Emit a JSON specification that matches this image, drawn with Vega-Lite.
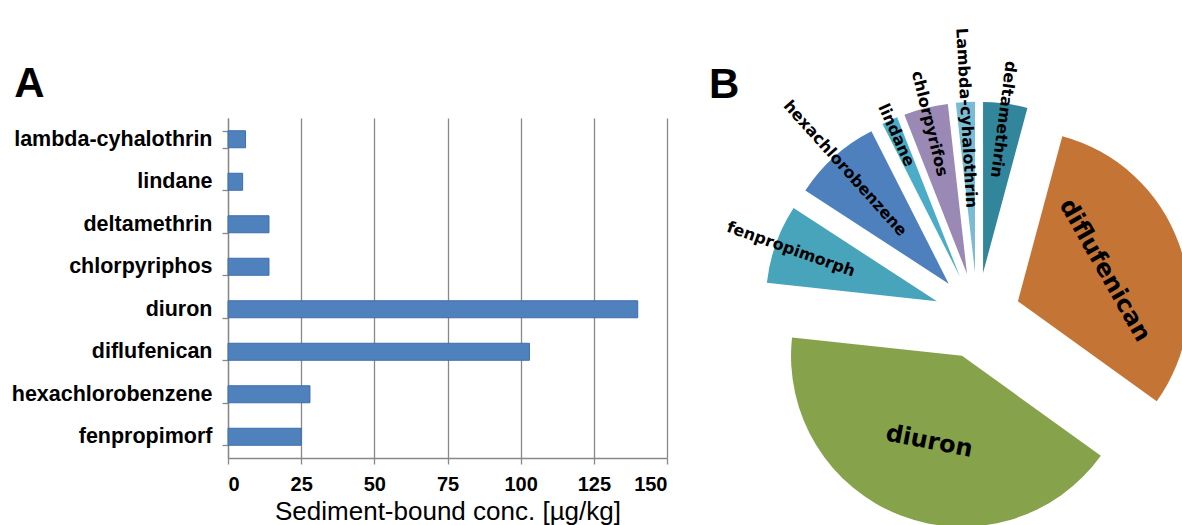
{
  "$schema": "https://vega.github.io/schema/vega-lite/v6.json",
  "background": "white",
  "padding": {"left": 11, "top": 27, "right": 0, "bottom": 0},
  "spacing": 42,
  "bounds": "flush",
  "config": {"view": {"stroke": null}, "font": "Liberation Sans"},
  "datasets": {
    "bars": [
      {"name": "lambda-cyhalothrin", "value": 6},
      {"name": "lindane", "value": 5},
      {"name": "deltamethrin", "value": 14},
      {"name": "chlorpyriphos", "value": 14},
      {"name": "diuron", "value": 140},
      {"name": "diflufenican", "value": 103},
      {"name": "hexachlorobenzene", "value": 28},
      {"name": "fenpropimorf", "value": 25}
    ],
    "pie": [
      {"name": "deltamethrin", "value": 14},
      {"name": "diflufenican", "value": 103},
      {"name": "diuron", "value": 140},
      {"name": "fenpropimorph", "value": 25},
      {"name": "hexachlorobenzene", "value": 28},
      {"name": "lindane", "value": 5},
      {"name": "chlorpyrifos", "value": 14},
      {"name": "Lambda-cyhalothrin", "value": 6}
    ]
  },
  "hconcat": [
    {
      "width": 439,
      "height": 340,
      "data": {"name": "bars"},
      "title": {"text": "A", "anchor": "start", "frame": "bounds", "dx": 3, "fontSize": 42, "fontWeight": "bold", "font": "Liberation Sans", "baseline": "alphabetic", "offset": -32, "color": "black"},
      "mark": {"type": "bar", "color": "#4F81BD", "stroke": "#3E6EAB", "strokeWidth": 1},
      "encoding": {
        "y": {
          "field": "name", "type": "nominal", "sort": null,
          "scale": {"paddingInner": 0.6, "paddingOuter": 0.3},
          "axis": {"title": null, "labelFont": "Liberation Sans", "labelFontSize": 21.5, "labelFontWeight": "bold", "labelColor": "black", "labelLimit": 0, "tickBand": "extent", "tickSize": 6, "tickColor": "#888888", "domainColor": "#888888", "labelPadding": 10, "domainWidth": 1.3, "tickWidth": 1.3}
        },
        "x": {
          "field": "value", "type": "quantitative",
          "scale": {"domain": [0, 150], "nice": false},
          "axis": {"values": [0, 25, 50, 75, 100, 125, 150], "title": "Sediment-bound conc. [µg/kg]", "titleFont": "Liberation Sans", "titleFontSize": 26, "titleFontWeight": "normal", "titleColor": "black", "titlePadding": 4, "labelFont": "Liberation Sans", "labelFontSize": 20, "labelFontWeight": "bold", "labelColor": "black", "labelPadding": 10, "tickSize": 6, "tickColor": "#888888", "domainColor": "#888888", "domainWidth": 1.3, "tickWidth": 1.3, "grid": true, "gridColor": "#888888", "gridWidth": 1.3}
        }
      }
    },
    {
      "width": 473,
      "height": 408,
      "data": {"name": "pie"},
      "title": {"text": "B", "anchor": "start", "frame": "group", "fontSize": 42, "fontWeight": "bold", "font": "Liberation Sans", "baseline": "alphabetic", "offset": -112, "color": "black"},
      "transform": [
        {"window": [{"op": "row_number", "as": "idx"}, {"op": "sum", "field": "value", "as": "cum"}], "frame": [null, 0]},
        {"joinaggregate": [{"op": "sum", "field": "value", "as": "total"}]},
        {"calculate": "datum.cum - datum.value / 2", "as": "midv"},
        {"calculate": "2 * PI * datum.midv / datum.total", "as": "ang"},
        {"calculate": "sin(datum.ang)", "as": "ex"},
        {"calculate": "cos(datum.ang)", "as": "ey"},
        {"calculate": "datum.value > 50 ? (datum.ang * 180 / PI) % 180 - 10 : (datum.ang * 180 / PI + 90) % 360", "as": "la"}
      ],
      "encoding": {
        "x": {"field": "ex", "type": "quantitative", "scale": {"domain": [-6.242, 4.758], "nice": false, "zero": false}, "axis": null},
        "y": {"field": "ey", "type": "quantitative", "scale": {"domain": [-4.891, 4.598], "nice": false, "zero": false}, "axis": null}
      },
      "layer": [
        {
          "mark": {"type": "arc", "radius": 171},
          "encoding": {
            "theta": {"field": "value", "type": "quantitative", "stack": true},
            "order": {"field": "idx", "type": "quantitative"},
            "color": {
              "field": "name", "type": "nominal", "legend": null,
              "scale": {
                "domain": ["deltamethrin", "diflufenican", "diuron", "fenpropimorph", "hexachlorobenzene", "lindane", "chlorpyrifos", "Lambda-cyhalothrin"],
                "range": ["#32869B", "#C47535", "#86A24B", "#47A4BA", "#4F80BE", "#4AACC6", "#9A89B5", "#7BBCD5"]
              }
            }
          }
        },
        {
          "transform": [{"filter": "datum.value < 50"}],
          "mark": {"type": "text", "radius": 155, "font": "DejaVu Sans", "fontWeight": "bold", "fontSize": 16, "align": "center", "baseline": "middle", "color": "black"},
          "encoding": {
            "theta": {"field": "midv", "type": "quantitative", "stack": null},
            "angle": {"field": "la", "type": "quantitative", "scale": null},
            "text": {"field": "name", "type": "nominal"}
          }
        },
        {
          "transform": [{"filter": "datum.value >= 50"}],
          "mark": {"type": "text", "radius": 92, "font": "DejaVu Sans", "fontWeight": "bold", "fontSize": 24, "align": "center", "baseline": "middle", "color": "black"},
          "encoding": {
            "theta": {"field": "midv", "type": "quantitative", "stack": null},
            "angle": {"field": "la", "type": "quantitative", "scale": null},
            "text": {"field": "name", "type": "nominal"}
          }
        }
      ]
    }
  ]
}
